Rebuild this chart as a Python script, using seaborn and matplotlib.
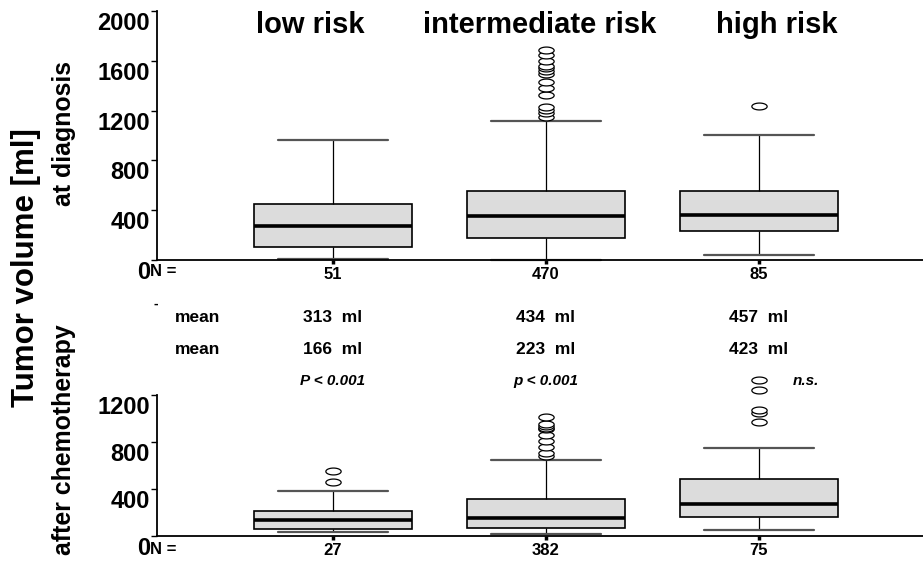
import numpy as np
import pandas as pd
import matplotlib
matplotlib.use("Agg")
import matplotlib.pyplot as plt
from matplotlib import transforms
from matplotlib.path import Path
import seaborn as sns

# ---------------- data ----------------
groups = ["low risk", "intermediate risk", "high risk"]
n_diag = [51, 470, 85]
n_chemo = [27, 382, 75]
mean_diag = [313, 434, 457]
mean_chemo = [166, 223, 423]
p_labels = ["P < 0.001", "p < 0.001", "n.s."]

# box summaries at diagnosis (ml)
diag_lo = [8, 0, 40]
diag_q1 = [104, 177, 233]
diag_med = [273, 353, 361]
diag_q3 = [450, 554, 554]
diag_hi = [965, 1115, 1004]
diag_out = [[],
            [1151, 1178, 1204, 1226, 1325, 1378, 1432, 1494, 1518, 1540, 1561, 1598, 1644, 1686],
            [1237]]

# box summaries after chemotherapy (ml)
chemo_lo = [29, 15, 46]
chemo_q1 = [60, 64, 161]
chemo_med = [132, 152, 273]
chemo_q3 = [215, 310, 482]
chemo_hi = [384, 648, 754]
chemo_out = [[455, 556],
             [685, 703, 757, 806, 857, 909, 924, 937, 958, 1015],
             [975, 1053, 1075, 1244, 1330]]


def build_sample(lo, q1, med, q3, hi, out):
    """A value list whose quartiles / whiskers / outliers reproduce the box."""
    k = len(out) + 1
    return [lo] + [q1] * k + [med] * k + [q3] * k + [hi] + list(out)


def build_table(los, q1s, meds, q3s, his, outs):
    rows = []
    for g, lo, q1, md, q3, hi, out in zip(groups, los, q1s, meds, q3s, his, outs):
        for v in build_sample(lo, q1, md, q3, hi, out):
            rows.append((g, v))
    return pd.DataFrame(rows, columns=["group", "value"])


df_diag = build_table(diag_lo, diag_q1, diag_med, diag_q3, diag_hi, diag_out)
df_chemo = build_table(chemo_lo, chemo_q1, chemo_med, chemo_q3, chemo_hi, chemo_out)

# ---------------- style ----------------
sns.set_theme(style="ticks")
plt.rcParams["font.family"] = ["Liberation Sans", "DejaVu Sans"]
plt.rcParams["font.weight"] = "bold"
for key in ["text.color", "axes.labelcolor", "xtick.color", "ytick.color", "axes.edgecolor"]:
    plt.rcParams[key] = "black"

W, H = 923, 565
fig = plt.figure(figsize=(W / 100, H / 100), dpi=100)


def fx(px):
    return px / W


def fy(py):
    return 1 - py / H


t = np.linspace(0, 2 * np.pi, 64)
ellipse = Path(np.column_stack([np.cos(t), 0.45 * np.sin(t)]), closed=True)

box_kws = dict(
    order=groups, color="#dcdcdc", linecolor="black", saturation=1,
    width=0.74, linewidth=1.2, fliersize=11, capwidths=0.52,
    flierprops=dict(marker=ellipse, markerfacecolor="white",
                    markeredgecolor="black", markeredgewidth=0.9),
    medianprops=dict(linewidth=2.6, color="black"),
    whiskerprops=dict(linewidth=0.9, color="black"),
    capprops=dict(linewidth=1.6, color="#555555"),
)

ax1 = fig.add_axes([fx(157), fy(260), 1 - fx(157), (260 - 11) / H])
ax2 = fig.add_axes([fx(157), fy(535.7), 1 - fx(157), (535.7 - 372) / H])

sns.boxplot(data=df_diag, x="group", y="value", ax=ax1, **box_kws)
sns.boxplot(data=df_chemo, x="group", y="value", ax=ax2, **box_kws)

label_shift = transforms.ScaledTranslation(0, -0.10, fig.dpi_scale_trans)

for ax, ylim, top, ns in [(ax1, (0, 2000), 2000, n_diag), (ax2, (0, 1400), 1200, n_chemo)]:
    ax.set_xlim(-0.826, 2.77)
    ax.set_ylim(*ylim)
    ax.set_xlabel("")
    ax.set_ylabel("")
    for s in ["top", "right"]:
        ax.spines[s].set_visible(False)
    ax.spines["left"].set_bounds(0, top)
    for s in ["left", "bottom"]:
        ax.spines[s].set_linewidth(1.3)
        ax.spines[s].set_color("black")
    ax.set_yticks(np.arange(0, top + 1, 400))
    ax.set_yticklabels([str(v) for v in np.arange(0, top + 1, 400)],
                       fontsize=17, fontweight="bold")
    ax.tick_params(axis="y", direction="out", length=4, width=1, pad=1, colors="black")
    for lab in ax.get_yticklabels():
        lab.set_transform(lab.get_transform() + label_shift)
    ax.set_xticks(range(len(groups)))
    ax.set_xticklabels([str(n) for n in ns], fontsize=12, fontweight="bold")
    ax.tick_params(axis="x", direction="out", length=3, width=2.5, pad=2, colors="black")
    ax.patch.set_alpha(0)
    for ln in ax.lines:
        ln.set_clip_on(False)

# titles
for name, px in zip(groups, [310, 540, 777]):
    fig.text(fx(px), fy(33), name, ha="center", va="baseline",
             fontsize=21, fontweight="bold")

# N = labels
fig.text(fx(150), fy(272), "N =", ha="left", va="center", fontsize=12, fontweight="bold")
fig.text(fx(150), fy(550), "N =", ha="left", va="center", fontsize=12, fontweight="bold")
fig.text(fx(153), fy(304), "-", ha="left", va="center", fontsize=10, fontweight="bold")

# mean rows
blend = transforms.blended_transform_factory(ax1.transData, fig.transFigure)
fig.text(fx(175), fy(317), "mean", ha="left", va="center", fontsize=12.5, fontweight="bold")
fig.text(fx(175), fy(350), "mean", ha="left", va="center", fontsize=12.5, fontweight="bold")
for i, (m1, m2) in enumerate(zip(mean_diag, mean_chemo)):
    ax1.text(i, fy(317), f"{m1}  ml", transform=blend, ha="center", va="center",
             fontsize=12.5, fontweight="bold")
    ax1.text(i, fy(350), f"{m2}  ml", transform=blend, ha="center", va="center",
             fontsize=12.5, fontweight="bold")
for xpos, lab in zip([0, 1, 2.22], p_labels):
    ax1.text(xpos, fy(381), lab, transform=blend, ha="center", va="center",
             fontsize=11, fontweight="bold", fontstyle="italic")

# y labels
fig.text(fx(26), fy(268), "Tumor volume [ml]", rotation=90, ha="center", va="center",
         fontsize=22.5, fontweight="bold")
fig.text(fx(64), fy(133), "at diagnosis", rotation=90, ha="center", va="center",
         fontsize=17.9, fontweight="bold")
fig.text(fx(64), fy(440), "after chemotherapy", rotation=90, ha="center", va="center",
         fontsize=17.9, fontweight="bold")

fig.savefig("out.png", dpi=100)
